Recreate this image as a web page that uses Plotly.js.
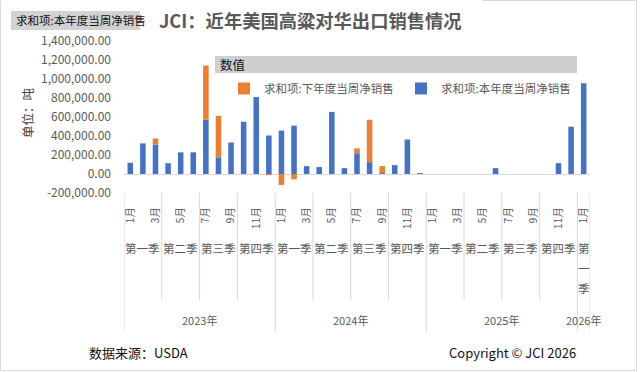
<!DOCTYPE html>
<html>
<head>
<meta charset="utf-8">
<script src="https://cdn.plot.ly/plotly-3.0.1.min.js"></script>
<style>html,body{margin:0;padding:0;background:#fff}#chart{width:641px;height:372px}</style>
</head>
<body>
<div id="chart"></div>
<script>
// ---- data ----
const periods = ['2023-01','2023-02','2023-03','2023-04','2023-05','2023-06','2023-07','2023-08','2023-09','2023-10','2023-11','2023-12',
                 '2024-01','2024-02','2024-03','2024-04','2024-05','2024-06','2024-07','2024-08','2024-09','2024-10','2024-11','2024-12',
                 '2025-01','2025-02','2025-03','2025-04','2025-05','2025-06','2025-07','2025-08','2025-09','2025-10','2025-11','2025-12',
                 '2026-01'];
const monthLabels = ['1月','2月','3月','4月','5月','6月','7月','8月','9月','10月','11月','12月',
                     '1月','2月','3月','4月','5月','6月','7月','8月','9月','10月','11月','12月',
                     '1月','2月','3月','4月','5月','6月','7月','8月','9月','10月','11月','12月',
                     '1月'];
const quarterNames = ['第一季','第二季','第三季','第四季'];
const yearLabels = ['2023年','2024年','2025年','2026年'];
const currentYearSales = [118000,322000,311000,114000,228000,228000,571000,176000,332000,550000,810000,405000,
                          457000,509000,83000,73000,654000,62000,218000,125000,10000,93000,363000,10000,
                          0,0,0,0,0,62000,0,0,0,0,114000,498000,
                          955000];
const nextYearSales = [0,0,63000,0,0,0,571000,436000,0,0,0,-12000,
                       -115000,-56000,0,0,0,0,52000,446000,73000,0,0,0,
                       0,0,0,0,0,0,0,0,0,0,0,0,
                       0];
const yTickVals = [-200000,0,200000,400000,600000,800000,1000000,1200000,1400000];
const yTickText = ['-200,000.00','0.00','200,000.00','400,000.00','600,000.00','800,000.00','1,000,000.00','1,200,000.00','1,400,000.00'];

// ---- geometry helpers (plot area: x 124..590, y 41..193) ----
const L = 124, R = 590, T = 41, B = 193;
const px = x => (x - L) / (R - L);
const py = y => (B - y) / (B - T);
const FONT = '"Noto Sans CJK SC", "Noto Sans", sans-serif';
const GREY = '#595959';
const LINE = '#d9d9d9';

const oddIdx = periods.map((p, i) => i).filter(i => parseInt(periods[i].slice(5), 10) % 2 === 1);

const traces = [
  {type: 'bar', name: '求和项:本年度当周净销售', x: periods, y: currentYearSales,
   marker: {color: '#4472C4'}, hoverinfo: 'x+y'},
  {type: 'bar', name: '求和项:下年度当周净销售', x: periods, y: nextYearSales,
   marker: {color: '#ED7D31'}, hoverinfo: 'x+y'}
];

const shapes = [];
const annotations = [];

// quarter and year groups
const qKey = i => periods[i].slice(0, 4) + 'Q' + Math.floor((parseInt(periods[i].slice(5), 10) - 1) / 3);
const yKey = i => periods[i].slice(0, 4);
function groups(keyFn) {
  const g = [];
  periods.forEach((p, i) => {
    const k = keyFn(i);
    if (!g.length || g[g.length - 1].k !== k) g.push({k: k, s: i, e: i});
    else g[g.length - 1].e = i;
  });
  return g;
}
const qGroups = groups(qKey);
const yGroups = groups(yKey);

// separators
const yearBounds = new Set();
yGroups.forEach(g => { yearBounds.add(g.s - 0.5); yearBounds.add(g.e + 0.5); });
const allBounds = new Set();
qGroups.forEach(g => { allBounds.add(g.s - 0.5); allBounds.add(g.e + 0.5); });
allBounds.forEach(b => {
  shapes.push({type: 'line', xref: 'x', yref: 'paper', x0: b, x1: b, y0: 0,
    y1: yearBounds.has(b) ? py(332) : py(300), line: {color: LINE, width: 1}});
});

// quarter labels
qGroups.forEach(g => {
  const q = parseInt(g.k.slice(5), 10);
  const name = quarterNames[q];
  const c = (g.s + g.e) / 2;
  if (g.e - g.s >= 1) {
    annotations.push({xref: 'x', yref: 'paper', x: c, y: py(248), text: name, showarrow: false,
      font: {family: FONT, size: 11.5, color: GREY}, xanchor: 'center', yanchor: 'middle'});
  } else {
    name.split('').forEach((ch, k) => {
      annotations.push({xref: 'x', yref: 'paper', x: c, y: py(248 + 20 * k), text: ch, showarrow: false,
        font: {family: FONT, size: 11.5, color: GREY}, xanchor: 'center', yanchor: 'middle'});
    });
  }
});
// year labels
yGroups.forEach((g, k) => {
  annotations.push({xref: 'x', yref: 'paper', x: (g.s + g.e) / 2, y: py(320), text: yearLabels[k], showarrow: false,
    font: {family: FONT, size: 11, color: GREY}, xanchor: 'center', yanchor: 'middle'});
});

// y-axis title
annotations.push({xref: 'paper', yref: 'paper', x: px(27), y: py(113), text: '单位：吨', textangle: -90, showarrow: false,
  font: {family: FONT, size: 12.5, color: '#404040'}, xanchor: 'center', yanchor: 'middle'});

// pivot field button
shapes.push({type: 'rect', xref: 'paper', yref: 'paper', x0: px(11), x1: px(140), y0: py(30), y1: py(11),
  line: {width: 0}, fillcolor: '#d2d2d2', layer: 'below'});
annotations.push({xref: 'paper', yref: 'paper', x: px(14), y: py(20.5), text: '求和项:本年度当周净销售', showarrow: false,
  font: {family: FONT, size: 11.5, color: '#111'}, xanchor: 'left', yanchor: 'middle'});
// legend header bar
shapes.push({type: 'rect', xref: 'paper', yref: 'paper', x0: px(215), x1: px(577), y0: py(73), y1: py(56),
  line: {width: 0}, fillcolor: '#cfcfcf', layer: 'below'});
annotations.push({xref: 'paper', yref: 'paper', x: px(218), y: py(64.5), text: '数值', showarrow: false,
  font: {family: FONT, size: 12.5, color: '#111'}, xanchor: 'left', yanchor: 'middle'});

// footer
annotations.push({xref: 'paper', yref: 'paper', x: px(87), y: py(353), text: '数据来源：USDA', showarrow: false,
  font: {family: FONT, size: 13, color: '#111'}, xanchor: 'left', yanchor: 'middle'});
annotations.push({xref: 'paper', yref: 'paper', x: px(447), y: py(353), text: 'Copyright © JCI 2026', showarrow: false,
  font: {family: FONT, size: 13, color: '#111'}, xanchor: 'left', yanchor: 'middle'});

// outer frame
[[0.5,0.5,0.5,370.5],[0.5,370.5,636.5,370.5],[636.5,0.5,636.5,370.5],[482,0.5,636.5,0.5]].forEach(s => {
  shapes.push({type: 'line', xref: 'paper', yref: 'paper', x0: px(s[0]), y0: py(s[1]), x1: px(s[2]), y1: py(s[3]),
    line: {color: LINE, width: 1}});
});

const layout = {
  width: 641, height: 372,
  margin: {l: L, r: 641 - R, t: T, b: 372 - B, pad: 0},
  paper_bgcolor: '#ffffff', plot_bgcolor: '#ffffff',
  barmode: 'relative', bargap: 0.56,
  font: {family: FONT, color: GREY},
  title: {text: 'JCI：近年美国高粱对华出口销售情况', x: 0.484, xanchor: 'center', y: 1 - 21.5 / 372, yanchor: 'middle',
    font: {family: FONT, size: 18.3, color: GREY, weight: 'bold'}},
  showlegend: true,
  legend: {orientation: 'h', traceorder: 'reversed', x: px(224), y: py(74), xanchor: 'left', yanchor: 'top',
    font: {family: FONT, size: 11.5, color: GREY}, bgcolor: 'rgba(0,0,0,0)', itemwidth: 30,
    entrywidth: 132, entrywidthmode: 'pixels'},
  xaxis: {type: 'category', range: [-0.5, periods.length - 0.5], showgrid: false, zeroline: false, showline: false,
    ticks: '', tickvals: oddIdx.map(i => periods[i]), ticktext: oddIdx.map(i => monthLabels[i]),
    tickangle: -90, ticklabelstandoff: 11, tickfont: {family: FONT, size: 10.5, color: GREY}, fixedrange: true},
  yaxis: {range: [-200000, 1400000], tickvals: yTickVals, ticktext: yTickText, showgrid: false,
    zeroline: true, zerolinecolor: LINE, zerolinewidth: 1, showline: false, ticks: '',
    ticklabelstandoff: 12, tickfont: {family: FONT, size: 12, color: GREY}, fixedrange: true},
  shapes: shapes,
  annotations: annotations
};

Plotly.newPlot('chart', traces, layout, {displayModeBar: false, staticPlot: true});
</script>
</body>
</html>
